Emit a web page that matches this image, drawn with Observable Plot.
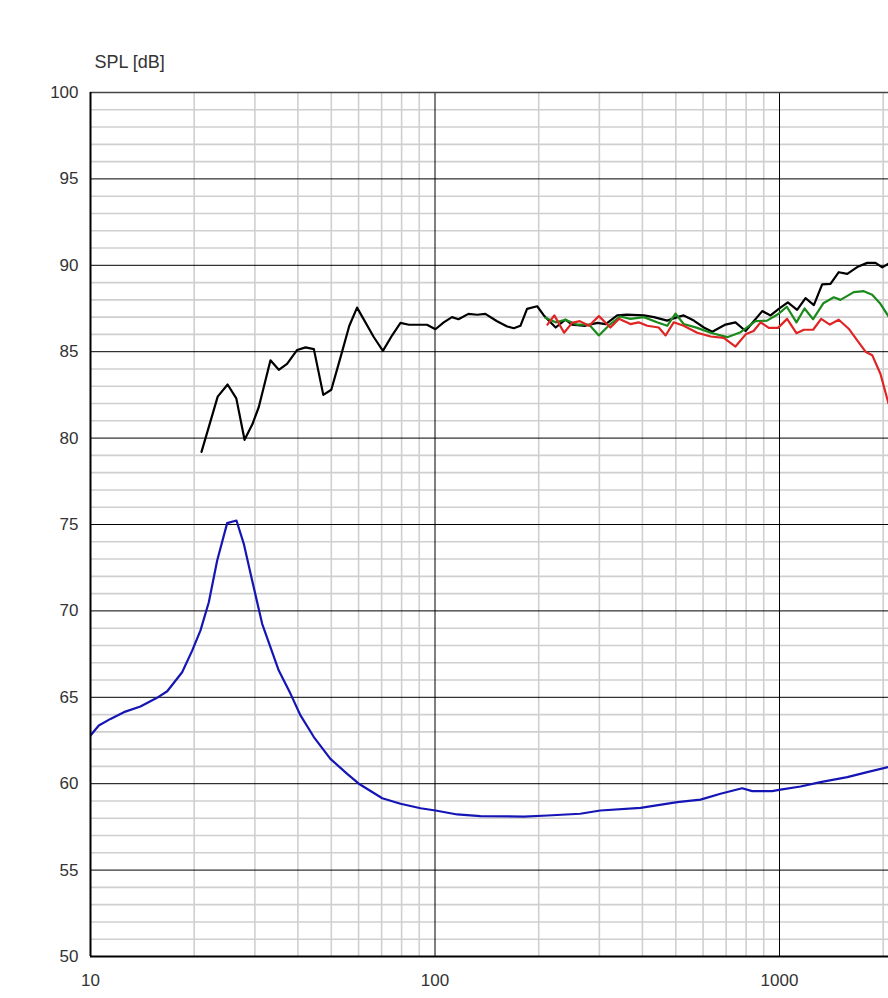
<!DOCTYPE html>
<html>
<head>
<meta charset="utf-8">
<script src="https://cdn.jsdelivr.net/npm/d3@7"></script>
<script src="https://cdn.jsdelivr.net/npm/@observablehq/plot@0.6"></script>
<style>
  html, body { margin: 0; padding: 0; background: #fff; overflow: hidden; }
  svg { display: block; }
</style>
</head>
<body>
<div id="chart"></div>
<script>
// ---- data (frequency in Hz, SPL in dB) ----
const blackFreq = [21.0, 23.4, 25.0, 26.5, 28.0, 29.5, 30.8, 33.3, 35.2, 37.2, 39.8, 42.1, 44.5, 47.4, 50.0, 53.4, 56.4, 59.4, 66.4, 70.6, 75.1, 79.4, 84.0, 94.8, 100.3, 106, 112, 117, 125, 132.6, 140, 151.4, 162, 169.3, 177, 185, 198, 207, 224, 239, 250, 273, 296, 313, 338, 361, 404, 432, 472, 505, 527, 564, 603, 638, 697, 745, 797, 891, 942, 995, 1057, 1125, 1190, 1258, 1330, 1406, 1486, 1573, 1681, 1797, 1900, 1987, 2072];
const blackSpl  = [79.2, 82.4, 83.1, 82.3, 79.9, 80.8, 81.8, 84.5, 83.95, 84.3, 85.1, 85.25, 85.15, 82.5, 82.8, 84.8, 86.5, 87.55, 85.85, 85.05, 85.95, 86.67, 86.56, 86.56, 86.3, 86.7, 87.0, 86.88, 87.19, 87.14, 87.19, 86.76, 86.46, 86.36, 86.5, 87.48, 87.63, 87.1, 86.4, 86.86, 86.57, 86.5, 86.67, 86.6, 87.1, 87.14, 87.1, 87.0, 86.8, 87.0, 87.1, 86.8, 86.4, 86.15, 86.57, 86.7, 86.2, 87.35, 87.1, 87.48, 87.86, 87.42, 88.1, 87.7, 88.9, 88.93, 89.6, 89.5, 89.9, 90.14, 90.14, 89.88, 90.1];

const greenFreq = [209, 224, 239, 258, 280, 299, 323, 345, 369, 404, 441, 472, 499, 527, 577, 631, 705, 771, 852, 920, 995, 1050, 1120, 1182, 1252, 1340, 1438, 1503, 1643, 1757, 1858, 1963, 2072];
const greenSpl  = [86.96, 86.7, 86.85, 86.57, 86.57, 85.94, 86.6, 87.04, 86.9, 87.0, 86.7, 86.5, 87.2, 86.6, 86.38, 86.1, 85.84, 86.13, 86.77, 86.8, 87.2, 87.6, 86.7, 87.5, 86.88, 87.8, 88.15, 88.0, 88.45, 88.5, 88.3, 87.77, 87.05];

const redFreq = [212, 222, 237, 250, 263, 280, 299, 323, 342, 369, 390, 413, 446, 467, 493, 527, 577, 631, 689, 745, 800, 841, 881, 931, 990, 1052, 1120, 1177, 1252, 1321, 1400, 1486, 1588, 1681, 1777, 1858, 1963, 2072];
const redSpl  = [86.57, 87.1, 86.1, 86.67, 86.77, 86.5, 87.06, 86.4, 86.9, 86.6, 86.7, 86.5, 86.4, 85.94, 86.7, 86.5, 86.1, 85.88, 85.8, 85.3, 86.03, 86.2, 86.7, 86.38, 86.38, 86.9, 86.07, 86.27, 86.27, 86.9, 86.57, 86.85, 86.33, 85.65, 85.0, 84.8, 83.72, 82.0];

const blueFreq = [10, 10.57, 11.43, 12.5, 13.96, 15.6, 16.7, 18.45, 19.73, 20.86, 22.05, 23.32, 24.93, 26.53, 27.86, 29.46, 31.5, 35.2, 38.08, 40.7, 44.5, 49.7, 55.6, 60.1, 70.3, 79.4, 90.8, 100.3, 116, 135.5, 181, 212, 264, 302, 395, 505, 590, 674, 779, 833, 952, 1007, 1151, 1315, 1573, 1797, 2072];
const blueSpl  = [62.79, 63.37, 63.75, 64.14, 64.47, 64.97, 65.35, 66.45, 67.7, 68.87, 70.5, 72.92, 75.08, 75.23, 73.88, 71.76, 69.25, 66.55, 65.2, 63.95, 62.7, 61.44, 60.57, 60.0, 59.16, 58.84, 58.58, 58.45, 58.22, 58.12, 58.1, 58.16, 58.26, 58.45, 58.6, 58.93, 59.08, 59.42, 59.74, 59.57, 59.57, 59.66, 59.84, 60.09, 60.38, 60.67, 60.96];

const xTickLabels = [10, 100, 1000];
const yTickLabels = [50, 55, 60, 65, 70, 75, 80, 85, 90, 95, 100];
const xMinor = [20, 30, 40, 50, 60, 70, 80, 90, 200, 300, 400, 500, 600, 700, 800, 900, 2000];
const yMinor = d3.range(51, 100).filter(v => v % 5 !== 0);
const yMajor = [55, 60, 65, 70, 75, 80, 85, 90, 95];
const xMajor = [100, 1000];
const yLabel = "SPL [dB]";

const zip = (fs, vs) => fs.map((f, i) => ({f, v: vs[i]}));
const black = zip(blackFreq, blackSpl);
const green = zip(greenFreq, greenSpl);
const red = zip(redFreq, redSpl);
const blue = zip(blueFreq, blueSpl);

const font = "Liberation Sans, Arial, sans-serif";

const chart = Plot.plot({
  width: 888,
  height: 998,
  marginLeft: 90,
  marginRight: 0,
  marginTop: 92,
  marginBottom: 42,
  style: {fontFamily: font, fontSize: "17px", color: "#333", background: "#fff"},
  x: {type: "log", domain: [10, 2072]},
  y: {domain: [50, 100]},
  marks: [
    Plot.ruleX(xMinor, {stroke: "#cfcfcf", strokeWidth: 1.6}),
    Plot.ruleY(yMinor, {stroke: "#cfcfcf", strokeWidth: 1.6}),
    Plot.ruleX(xMajor, {stroke: "#000", strokeWidth: 1}),
    Plot.ruleY(yMajor, {stroke: "#000", strokeWidth: 1}),
    Plot.ruleY([100], {stroke: "#444", strokeWidth: 1.5}),
    Plot.line(blue, {x: "f", y: "v", stroke: "#1515b5", strokeWidth: 2.2, clip: true}),
    Plot.line(black, {x: "f", y: "v", stroke: "#000", strokeWidth: 2.2, clip: true}),
    Plot.line(green, {x: "f", y: "v", stroke: "#1a8a1a", strokeWidth: 2.2, clip: true}),
    Plot.line(red, {x: "f", y: "v", stroke: "#e02424", strokeWidth: 2.2, clip: true}),
    Plot.ruleX([10], {stroke: "#000", strokeWidth: 2}),
    Plot.ruleY([50], {stroke: "#000", strokeWidth: 2}),
    Plot.axisY(yTickLabels, {tickSize: 0, tickPadding: 12, label: null, fontSize: 17, fill: "#333"}),
    Plot.axisX(xTickLabels, {tickSize: 0, tickPadding: 17, label: null, tickFormat: d => String(d), fontSize: 17, fill: "#333"}),
    Plot.text([yLabel], {frameAnchor: "top-left", text: d => d, textAnchor: "start", lineAnchor: "middle", dx: 4, dy: -30, fontSize: 18, fill: "#333"})
  ]
});
document.getElementById("chart").appendChild(chart);
</script>
</body>
</html>
